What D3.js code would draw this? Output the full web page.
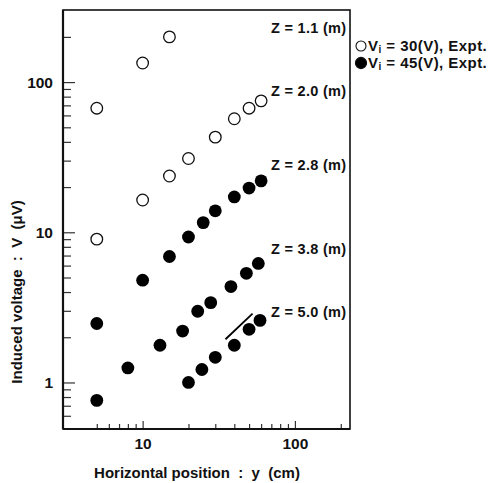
<!DOCTYPE html>
<html>
<head>
<meta charset="utf-8">
<script src="https://cdn.jsdelivr.net/npm/d3@7"></script>
<style>
  body { margin: 0; background: #fff; }
  text { font-family: "Liberation Sans", Arial, sans-serif; font-weight: bold; fill: #111; }
</style>
</head>
<body>
<div id="vis"></div>
<script>
const W = 492, H = 483;
const margin = {top: 10, right: 142, bottom: 54, left: 63};

// measured points, grouped by Z (m)
const z11x = [5, 10, 15];
const z11v = [67, 134, 200];
const z20x = [5, 10, 15, 20, 30, 40, 50, 60];
const z20v = [9.0, 16.4, 23.7, 31, 43, 57, 67, 75];
const z28x = [5, 10, 15, 20, 25, 30, 40, 50, 60];
const z28v = [2.47, 4.8, 6.9, 9.3, 11.6, 13.9, 17.2, 19.7, 22.0];
const z38x = [8, 13, 18.3, 23, 28, 38, 48, 57.5];
const z38v = [1.25, 1.77, 2.2, 2.98, 3.4, 4.35, 5.33, 6.2];
const z50x = [5, 20, 24.5, 30, 40, 50, 59];
const z50v = [0.76, 1.0, 1.22, 1.47, 1.77, 2.26, 2.59];
const segX = [35, 52.7];
const segV = [1.94, 2.87];

const zLabels = ["Z = 1.1 (m)", "Z = 2.0 (m)", "Z = 2.8 (m)", "Z = 3.8 (m)", "Z = 5.0 (m)"];
const zLabelV = [229, 88, 28, 7.7, 2.97];

const xMajor = [10, 100];
const xMinor = [5, 6, 7, 8, 9, 20, 30, 40, 50, 60, 70, 80, 90, 200];
const yMajor = [1, 10, 100];
const yMinor = [0.6, 0.7, 0.8, 0.9, 2, 3, 4, 5, 6, 7, 8, 9, 20, 30, 40, 50, 60, 70, 80, 90, 200];

const legendText = [["V", "i", " = 30(V), Expt."], ["V", "i", " = 45(V), Expt."]];

const width = W - margin.left - margin.right;
const height = H - margin.top - margin.bottom;

const svg = d3.select("#vis").append("svg")
    .attr("width", W).attr("height", H);
const g = svg.append("g")
    .attr("transform", `translate(${margin.left},${margin.top})`);

const x = d3.scaleLog().domain([3, 230]).range([0, width]);
const y = d3.scaleLog().domain([0.49, 302]).range([height, 0]);

// axes, ticks pointing inward
g.append("g").attr("class", "axis")
    .call(d3.axisLeft(y).tickValues(yMinor).tickSizeInner(-8).tickSizeOuter(0).tickFormat(""));
g.append("g").attr("class", "axis")
    .call(d3.axisLeft(y).tickValues(yMajor).tickSizeInner(-12).tickSizeOuter(0).tickPadding(10).tickFormat(d3.format("d")));
g.append("g").attr("class", "axis")
    .attr("transform", `translate(0,${height})`)
    .call(d3.axisBottom(x).tickValues(xMinor).tickSizeInner(-5).tickSizeOuter(0).tickFormat(""));
g.append("g").attr("class", "axis")
    .attr("transform", `translate(0,${height})`)
    .call(d3.axisBottom(x).tickValues(xMajor).tickSizeInner(-8).tickSizeOuter(0).tickPadding(9).tickFormat(d3.format("d")));

g.selectAll(".axis .domain").remove();
g.selectAll(".axis line").attr("stroke", "#333").attr("stroke-width", 1.2);
g.selectAll(".axis text")
    .style("font-size", "15.5px")
    .style("font-family", "'Liberation Sans', Arial, sans-serif")
    .style("font-weight", "bold")
    .attr("fill", "#111");

// frame
g.append("rect")
    .attr("width", width).attr("height", height)
    .attr("fill", "none").attr("stroke", "#111").attr("stroke-width", 1.6);
g.append("line")
    .attr("x1", 0).attr("x2", width).attr("y1", height).attr("y2", height)
    .attr("stroke", "#111").attr("stroke-width", 2.2);
g.append("line")
    .attr("x1", 0).attr("x2", 0).attr("y1", 0).attr("y2", height)
    .attr("stroke", "#111").attr("stroke-width", 2.2);

const zip = (xs, vs) => xs.map((d, i) => [d, vs[i]]);
const openPts = [].concat(zip(z11x, z11v), zip(z20x, z20v));
const filledPts = [].concat(zip(z28x, z28v), zip(z38x, z38v), zip(z50x, z50v));

g.selectAll(".open")
    .data(openPts)
    .enter().append("circle")
    .attr("class", "open")
    .attr("cx", d => x(d[0])).attr("cy", d => y(d[1]))
    .attr("r", 5.8)
    .attr("fill", "#fff").attr("stroke", "#111").attr("stroke-width", 1.3);

g.selectAll(".filled")
    .data(filledPts)
    .enter().append("circle")
    .attr("class", "filled")
    .attr("cx", d => x(d[0])).attr("cy", d => y(d[1]))
    .attr("r", 6.4)
    .attr("fill", "#000");

g.append("path")
    .datum(zip(segX, segV))
    .attr("d", d3.line().x(d => x(d[0])).y(d => y(d[1])))
    .attr("stroke", "#000").attr("stroke-width", 1.8).attr("fill", "none");

// Z labels
g.selectAll(".zlab")
    .data(zLabels)
    .enter().append("text")
    .attr("class", "zlab")
    .attr("x", 208)
    .attr("y", (d, i) => y(zLabelV[i]))
    .attr("dy", "0.35em")
    .style("font-size", "14.5px")
    .style("letter-spacing", "0.3px")
    .text(d => d);

// legend outside the frame
const leg = svg.append("g").attr("transform", "translate(361,46)");
legendText.forEach((t, i) => {
    const row = leg.append("g").attr("transform", `translate(0,${i * 17})`);
    row.append("circle")
        .attr("r", i === 0 ? 5 : 5.6)
        .attr("fill", i === 0 ? "#fff" : "#000")
        .attr("stroke", "#111").attr("stroke-width", 1.1);
    const tx = row.append("text").attr("x", 7).attr("dy", "0.35em")
        .style("font-size", "15px").style("letter-spacing", "0.45px");
    tx.append("tspan").text(t[0]);
    tx.append("tspan").text(t[1]).style("font-size", "10px").attr("dy", "0.2em");
    tx.append("tspan").text(t[2]).attr("dy", "-0.15em");
});

// axis titles (non-breaking spaces keep the wide gaps)
svg.append("text")
    .attr("x", 197).attr("y", 478)
    .attr("text-anchor", "middle")
    .style("font-size", "15px")
    .text("Horizontal position\u00a0\u00a0:\u00a0\u00a0y\u00a0\u00a0(cm)");

svg.append("text")
    .attr("transform", "translate(22,292) rotate(-90)")
    .attr("text-anchor", "middle")
    .style("font-size", "15px")
    .text("Induced voltage\u00a0\u00a0:\u00a0\u00a0V\u00a0\u00a0(\u03bcV)");
</script>
</body>
</html>
